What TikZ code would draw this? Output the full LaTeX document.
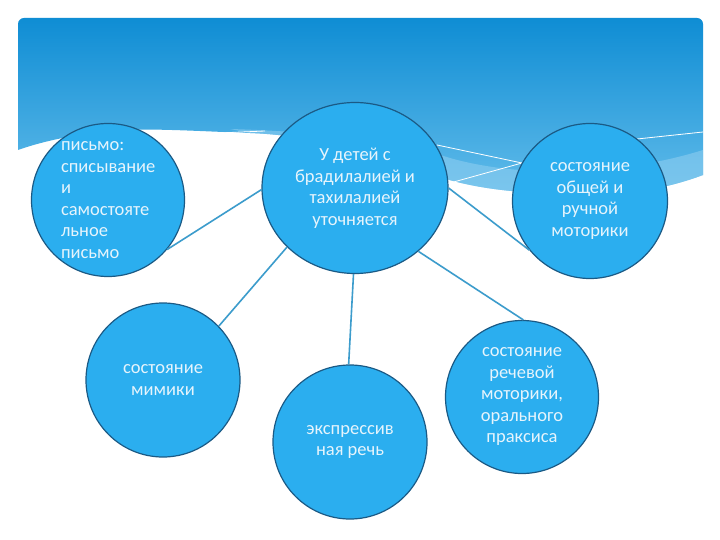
\documentclass[tikz,border=0pt]{standalone}
\usepackage{fontspec}
\setmainfont{Carlito}
\usetikzlibrary{shapes.geometric}

\definecolor{hdrtop}{HTML}{0F8DD4}
\definecolor{hdrbot}{HTML}{62BCEA}
\definecolor{ribbon}{HTML}{8CCDF0}
\definecolor{bubblefill}{HTML}{2BAEEF}
\definecolor{bubbleedge}{HTML}{1B5A85}
\definecolor{bubbletxt}{HTML}{E6F4FC}
\definecolor{linkcol}{HTML}{3C9CCC}

\tikzset{
    bubble/.style={circle, draw=bubbleedge, fill=bubblefill, line width=1.2pt,
        minimum size=153pt, inner sep=0pt},
    bubbletext/.style={text=bubbletxt, font=\fontsize{18.5}{21.5}\selectfont, align=center},
    link/.style={draw=linkcol, line width=1.6pt}
}

\begin{document}
\begin{tikzpicture}[x=1pt, y=-1pt]

    % Page size
    \def\W{720}
    \def\H{540}
    \useasboundingbox (0,0) rectangle (\W,\H);
    \fill[white] (0,0) rectangle (\W,\H);

    % Blue header with wave
    \shade[top color=hdrtop, bottom color=hdrbot]
        (18,150) [rounded corners=6pt] -- (18,18) -- (703,18) [sharp corners] -- (703,175)
        .. controls (660,191) and (620,196) .. (560,194)
        .. controls (500,192) and (460,186) .. (420,170)
        .. controls (360,146) and (300,135) .. (250,133)
        .. controls (190,131) and (140,127) .. (100,132)
        .. controls (60,137) and (35,144) .. (18,150) -- cycle;

    % Lighter ribbon along the wave
    \fill[ribbon, opacity=0.6]
        (230,129) .. controls (330,132) and (400,142) .. (450,158)
        .. controls (520,178) and (620,176) .. (703,150) -- (703,175)
        .. controls (660,191) and (620,196) .. (560,194)
        .. controls (500,192) and (460,186) .. (420,170)
        .. controls (360,146) and (300,135) .. (250,133) -- cycle;

    % Thin white streaks
    \draw[white, line width=0.8pt] (437,145) -- (522,163);
    \draw[white, line width=0.8pt] (450,183) -- (522,163);
    \draw[white, line width=0.8pt] (637,139) -- (703,132);
    \draw[white, line width=0.8pt] (195,134) -- (265,131);

    % Circles
    \node[bubble] (pis) at (108,200) {};
    \node[bubbletext, align=left, text width=100pt] (pistxt) at (pis.center) [xshift=3pt]
        {письмо:\\списывание\\и\\самостояте\\льное\\письмо};

    \node[bubble, ellipse, minimum width=186pt, minimum height=171pt, bubbletext] (cen) at (355,188)
        {У детей с\\брадилалией и\\тахилалией\\уточняется};

    \node[bubble, minimum size=155pt, bubbletext] (mot) at (590,201)
        {состояние\\общей и\\ручной\\моторики};

    \node[bubble, minimum size=154pt, bubbletext] (mim) at (163,380)
        {состояние\\мимики};

    \node[bubble, minimum size=154pt, bubbletext] (exp) at (350,442)
        {экспрессив\\ная речь};

    \node[bubble, bubbletext] (rech) at (522,397)
        {состояние\\речевой\\моторики,\\орального\\праксиса};

    % Connectors
    \draw[link] (cen.181) -- (pis.-40);
    \draw[link] (cen.221) -- (mim.44);
    \draw[link] (cen.269) -- (exp.91);
    \draw[link] (cen.-45) -- (rech.89);
    \draw[link] (cen.0) -- (mot.219);

\end{tikzpicture}
\end{document}
